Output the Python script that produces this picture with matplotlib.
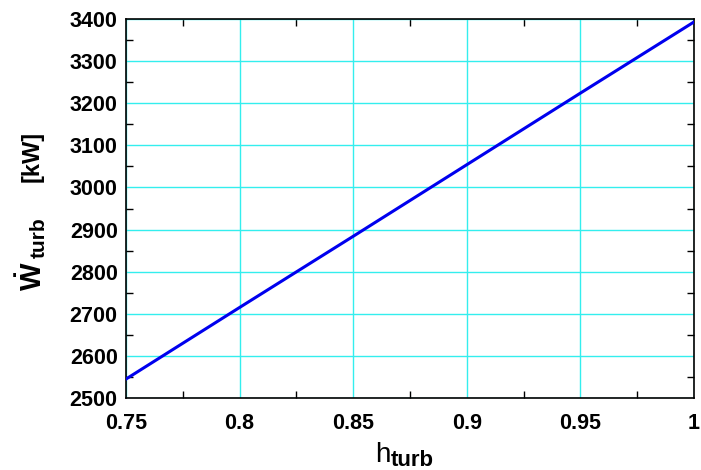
import matplotlib
matplotlib.use("Agg")
import matplotlib.pyplot as plt
from matplotlib.ticker import MultipleLocator

# DATA
eta_turb = [0.75, 0.80, 0.85, 0.90, 0.95, 1.00]
w_turb = [2545, 2715, 2884, 3054, 3224, 3393]
x_ticks = [0.75, 0.8, 0.85, 0.9, 0.95, 1.0]
x_tick_labels = ['0.75', '0.8', '0.85', '0.9', '0.95', '1']

plt.rcParams['font.family'] = ['Liberation Sans', 'DejaVu Sans']
plt.rcParams['mathtext.fontset'] = 'custom'
plt.rcParams['mathtext.rm'] = 'Liberation Sans'
plt.rcParams['mathtext.it'] = 'Liberation Sans:italic'
plt.rcParams['mathtext.bf'] = 'Liberation Sans:bold'

W, H = 701, 470
fig = plt.figure(figsize=(W / 100, H / 100), dpi=100)
ax = fig.add_axes([126 / W, 1 - 398 / H, (694 - 126) / W, (398 - 19) / H])

ax.plot(eta_turb, w_turb, color='#0000ee', linewidth=2.2, zorder=3)

ax.set_xlim(0.75, 1.0)
ax.set_ylim(2500, 3400)
ax.set_xticks(x_ticks)
ax.set_xticklabels(x_tick_labels)
ax.xaxis.set_minor_locator(MultipleLocator(0.025))
ax.yaxis.set_major_locator(MultipleLocator(100))
ax.yaxis.set_minor_locator(MultipleLocator(50))

ax.grid(True, which='major', color='#33eeee', linewidth=1.0, zorder=0)
ax.tick_params(which='major', length=0, labelsize=15.5)
ax.tick_params(axis='x', which='major', pad=11)
ax.tick_params(axis='y', which='major', pad=6)
ax.tick_params(which='minor', direction='in', length=5, width=1, top=True, right=True, color='black')
for lbl in ax.get_xticklabels() + ax.get_yticklabels():
    lbl.set_fontweight('bold')
for sp in ax.spines.values():
    sp.set_linewidth(1.2)

# x label: h_turb
fig.text(375 / W, 1 - 462 / H, 'h', fontsize=20, ha='left', va='baseline')
fig.text(391 / W, 1 - 466 / H, 'turb', fontsize=16, fontweight='bold', ha='left', va='baseline')

# y label: W-dot_turb [kW]
fig.text(42 / W, 1 - 291 / H, r'$\mathbf{\dot{W}}$', fontsize=21, rotation=90,
         ha='left', va='baseline', rotation_mode='anchor')
fig.text(45 / W, 1 - 258 / H, 'turb', fontsize=15, fontweight='bold', rotation=90,
         ha='left', va='baseline', rotation_mode='anchor')
fig.text(39 / W, 1 - 182 / H, '[kW]', fontsize=17, fontweight='bold', rotation=90,
         ha='left', va='baseline', rotation_mode='anchor')

fig.savefig('out.png', dpi=100)
